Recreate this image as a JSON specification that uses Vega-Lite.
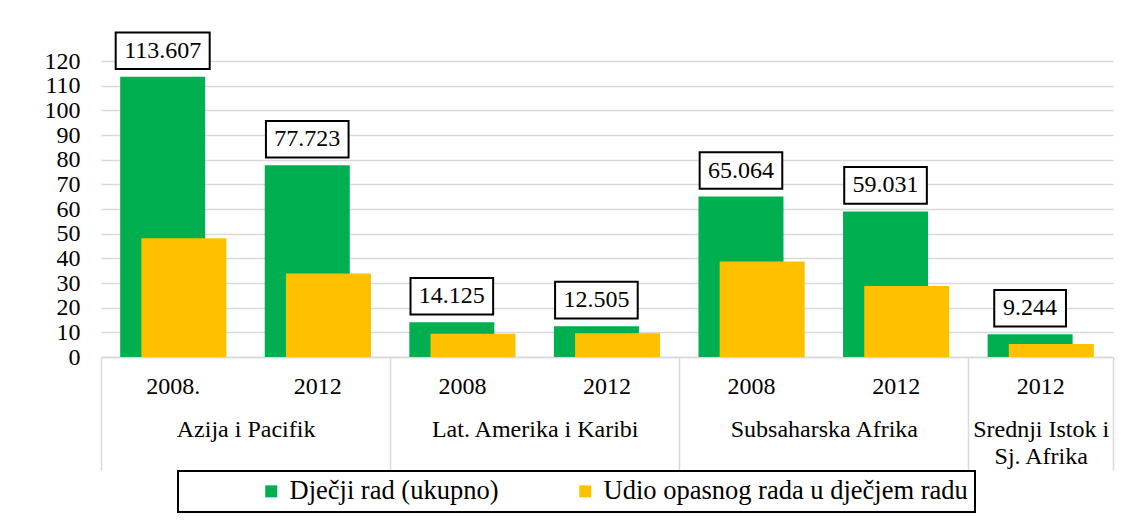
{
  "$schema": "https://vega.github.io/schema/vega-lite/v6.json",
  "width": 1012,
  "height": 296,
  "autosize": {"type": "none"},
  "padding": {"left": 101, "top": 61, "right": 17, "bottom": 174},
  "background": "white",
  "config": {"view": {"stroke": null}, "font": "Liberation Serif", "axisY": {"labelOverlap": false}},
  "data": {
    "values": [
      {"region": "Azija i Pacifik", "year": "2008.", "key": "Azija i Pacifik|2008.", "total": 113.607, "hazardous": 48.164},
      {"region": "Azija i Pacifik", "year": "2012", "key": "Azija i Pacifik|2012", "total": 77.723, "hazardous": 33.86},
      {"region": "Lat. Amerika i Karibi", "year": "2008", "key": "Lat. Amerika i Karibi|2008", "total": 14.125, "hazardous": 9.436},
      {"region": "Lat. Amerika i Karibi", "year": "2012", "key": "Lat. Amerika i Karibi|2012", "total": 12.505, "hazardous": 9.638},
      {"region": "Subsaharska Afrika", "year": "2008", "key": "Subsaharska Afrika|2008", "total": 65.064, "hazardous": 38.736},
      {"region": "Subsaharska Afrika", "year": "2012", "key": "Subsaharska Afrika|2012", "total": 59.031, "hazardous": 28.767},
      {"region": "Srednji Istok i Sj. Afrika", "year": "2012", "key": "Srednji Istok i Sj. Afrika|2012", "total": 9.244, "hazardous": 5.224}
    ]
  },
  "transform": [{"calculate": "length(format(datum.total, '.3f'))", "as": "nch"}],
  "layer": [
    {
      "mark": {"type": "bar", "width": {"band": 0.588}, "xOffset": -10.6},
      "encoding": {
        "x": {
          "field": "key", "type": "nominal", "sort": null, "title": null,
          "scale": {"paddingInner": 0, "paddingOuter": 0},
          "axis": {
            "orient": "bottom",
            "labelExpr": "datum.value ? split(datum.value, '|')[1] : ''",
            "ticks": false, "domain": true, "domainColor": "#d9d9d9", "domainWidth": 1.5,
            "grid": false, "labelAngle": 0, "labelOverlap": false,
            "labelFont": "Liberation Serif", "labelFontSize": 24, "labelColor": "black", "labelPadding": 17
          }
        },
        "y": {
          "field": "total", "type": "quantitative", "title": null,
          "scale": {"domain": [0, 120], "nice": false},
          "axis": {
            "values": [0, 10, 20, 30, 40, 50, 60, 70, 80, 90, 100, 110, 120],
            "domain": false, "ticks": false, "grid": true, "gridColor": "#d9d9d9", "gridWidth": 1.5, "labelOverlap": false,
            "labelFont": "Liberation Serif", "labelFontSize": 24, "labelColor": "black", "labelPadding": 21
          }
        },
        "color": {
          "datum": "Dječji rad (ukupno)",
          "scale": {"domain": ["Dječji rad (ukupno)", "Udio opasnog rada u dječjem radu"], "range": ["#00b050", "#ffc000"]},
          "legend": {
            "title": null, "orient": "none", "legendX": 77, "legendY": 410, "direction": "horizontal",
            "symbolType": "square", "symbolSize": 144, "symbolStrokeWidth": 0, "symbolOpacity": 1,
            "labelFont": "Liberation Serif", "labelFontSize": 26.5, "labelColor": "black", "labelLimit": 600,
            "labelExpr": "datum.label == 'Udio opasnog rada u dječjem radu' ? datum.label + '\u00a0\u00a0\u00a0\u00a0\u00a0\u00a0\u00a0\u00a0\u00a0\u00a0' : datum.label",
            "strokeColor": "black", "padding": 7, "columnPadding": -11, "labelOffset": 5, "symbolOffset": 73,
            "encode": {"legend": {"update": {"strokeWidth": {"value": 2}}}}
          }
        }
      }
    },
    {
      "mark": {"type": "bar", "width": {"band": 0.588}, "xOffset": 10.6},
      "encoding": {
        "x": {
          "field": "key", "type": "nominal", "sort": null, "title": null,
          "axis": {
            "orient": "bottom", "domain": false, "grid": false,
            "ticks": true, "tickBand": "extent", "tickSize": 113, "tickColor": "#d9d9d9", "tickWidth": 1.5,
            "tickOpacity": {"condition": {"test": "datum.value && indexof(datum.value, '|2008') >= 0", "value": 0}, "value": 1},
            "labelExpr": "!datum.value ? '' : indexof(datum.value, 'Srednji') >= 0 ? ['Srednji Istok i', 'Sj. Afrika'] : (indexof(datum.value, '|2012') >= 0 ? '' : split(datum.value, '|')[0])",
            "labelOffset": {"condition": {"test": "datum.value && indexof(datum.value, 'Srednji') >= 0", "value": 0}, "value": 72.3},
            "labelPadding": -53, "labelLineHeight": 27, "labelAngle": 0, "labelOverlap": false, "labelLimit": 400, "labelBound": false,
            "labelFont": "Liberation Serif", "labelFontSize": 24, "labelColor": "black"
          }
        },
        "y": {
          "field": "hazardous", "type": "quantitative", "title": null,
          "axis": {
            "values": [0, 10, 20, 30, 40, 50, 60, 70, 80, 90, 100, 110, 120],
            "domain": false, "ticks": false, "grid": true, "gridColor": "#d9d9d9", "gridWidth": 1.5, "labelOverlap": false,
            "labelFont": "Liberation Serif", "labelFontSize": 24, "labelColor": "black", "labelPadding": 21
          }
        },
        "color": {"datum": "Udio opasnog rada u dječjem radu"}
      }
    },
    {
      "mark": {"type": "point", "filled": true, "fill": "white", "stroke": "black", "strokeWidth": 2, "opacity": 1, "size": 8836, "xOffset": -10.6, "yOffset": -26},
      "encoding": {
        "x": {"field": "key", "type": "nominal", "sort": null, "title": null, "axis": null},
        "y": {
          "field": "total", "type": "quantitative", "title": null,
          "axis": {
            "values": [0, 10, 20, 30, 40, 50, 60, 70, 80, 90, 100, 110, 120],
            "domain": false, "ticks": false, "grid": true, "gridColor": "#d9d9d9", "gridWidth": 1.5, "labelOverlap": false,
            "labelFont": "Liberation Serif", "labelFontSize": 24, "labelColor": "black", "labelPadding": 21
          }
        },
        "shape": {
          "field": "nch", "type": "ordinal",
          "scale": {"domain": [5, 6, 7], "range": ["M-0.763,-0.389L0.763,-0.389L0.763,0.389L-0.763,0.389Z", "M-0.879,-0.389L0.879,-0.389L0.879,0.389L-0.879,0.389Z", "M-1,-0.389L1,-0.389L1,0.389L-1,0.389Z"]},
          "legend": null
        }
      }
    },
    {
      "mark": {"type": "text", "font": "Liberation Serif", "fontSize": 24, "color": "black", "align": "center", "baseline": "middle", "xOffset": -10.6, "yOffset": -26},
      "encoding": {
        "x": {"field": "key", "type": "nominal", "sort": null, "title": null, "axis": null},
        "y": {
          "field": "total", "type": "quantitative", "title": null,
          "axis": {
            "values": [0, 10, 20, 30, 40, 50, 60, 70, 80, 90, 100, 110, 120],
            "domain": false, "ticks": false, "grid": true, "gridColor": "#d9d9d9", "gridWidth": 1.5, "labelOverlap": false,
            "labelFont": "Liberation Serif", "labelFontSize": 24, "labelColor": "black", "labelPadding": 21
          }
        },
        "text": {"field": "total", "type": "quantitative", "format": ".3f"}
      }
    }
  ],
  "resolve": {"axis": {"x": "independent"}}
}
